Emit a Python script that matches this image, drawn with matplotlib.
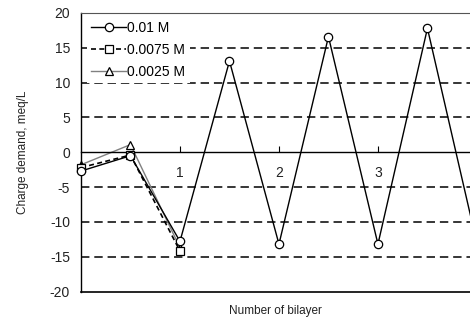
import matplotlib
matplotlib.use("Agg")
import matplotlib.pyplot as plt

plt.rcParams["font.family"] = ["Liberation Sans", "DejaVu Sans"]

# charge demand (meq/L) vs. layer count, half-integer steps = each polyelectrolyte addition
x_full = [0, 0.5, 1, 1.5, 2, 2.5, 3, 3.5, 4]
cd_001 = [-2.7, -0.5, -12.8, 13.1, -13.2, 16.6, -13.2, 17.8, -13.1]
x_short = [0, 0.5, 1]
cd_00075 = [-2.2, -0.4, -14.2]
cd_00025 = [-1.8, 1.1, -13.7]
labels = ["0.01 M", "0.0075 M", "0.0025 M"]
xticks = [1, 2, 3]
yticks = list(range(-20, 21, 5))

fig = plt.figure(figsize=(4.7, 3.25), dpi=100)
ax = fig.add_axes([81 / 470, 1 - 291.5 / 325, 1 - 81 / 470, (291.5 - 13) / 325])

for y in (-15, -10, -5, 5, 10, 15):
    ax.axhline(y, color="black", ls=(0, (5.5, 3.2)), lw=1.1, zorder=1)

mk = dict(markerfacecolor="white", markeredgewidth=0.9, markersize=6, clip_on=False)
ax.plot(x_full, cd_001, "-", color="black", lw=1.0, marker="o", label=labels[0], zorder=4, **mk)
ax.plot(x_short, cd_00075, color="black", ls=(0, (3, 2)), lw=1.2, marker="s",
        markeredgecolor="black", label=labels[1], zorder=3, **mk)
ax.plot(x_short, cd_00025, "-", color="#808080", lw=1.0, marker="^",
        markeredgecolor="black", label=labels[2], zorder=2, **mk)

ax.set_xlim(0, 3.93)
ax.set_ylim(-20, 20)
ax.set_yticks(yticks)
ax.set_yticklabels([str(v) for v in yticks], fontsize=10, color="#222222")
ax.tick_params(axis="y", length=0, pad=8)

# x axis sits on the zero line, ticks point up, labels hang below it
ax.spines["bottom"].set_position(("data", 0))
ax.spines["right"].set_visible(False)
ax.spines["top"].set_color("#555555")
ax.set_xticks(xticks)
ax.set_xticklabels([str(v) for v in xticks], fontsize=10, color="#222222")
ax.tick_params(axis="x", direction="in", length=4, pad=10)
ax.axhline(-20, color="black", lw=1.2, clip_on=False)
for s in ("left", "bottom"):
    ax.spines[s].set_linewidth(1.0)

ax.set_ylabel("Charge demand, meq/L", fontsize=8.5, color="#222222", labelpad=15)
ax.text(0.5, -0.05, "Number of bilayer", transform=ax.transAxes, ha="center", va="top",
        fontsize=8.5, color="#222222")

leg = ax.legend(loc="upper left", bbox_to_anchor=(0.012, 0.99), frameon=True, fontsize=10,
                handlelength=2.5, handletextpad=0.1, labelspacing=0.55, borderaxespad=0.1,
                borderpad=0.3, fancybox=False)
leg.get_frame().set_facecolor("white")
leg.get_frame().set_edgecolor("none")
leg.get_frame().set_alpha(1.0)
leg.set_zorder(5)

fig.savefig("out.png", dpi=100)
